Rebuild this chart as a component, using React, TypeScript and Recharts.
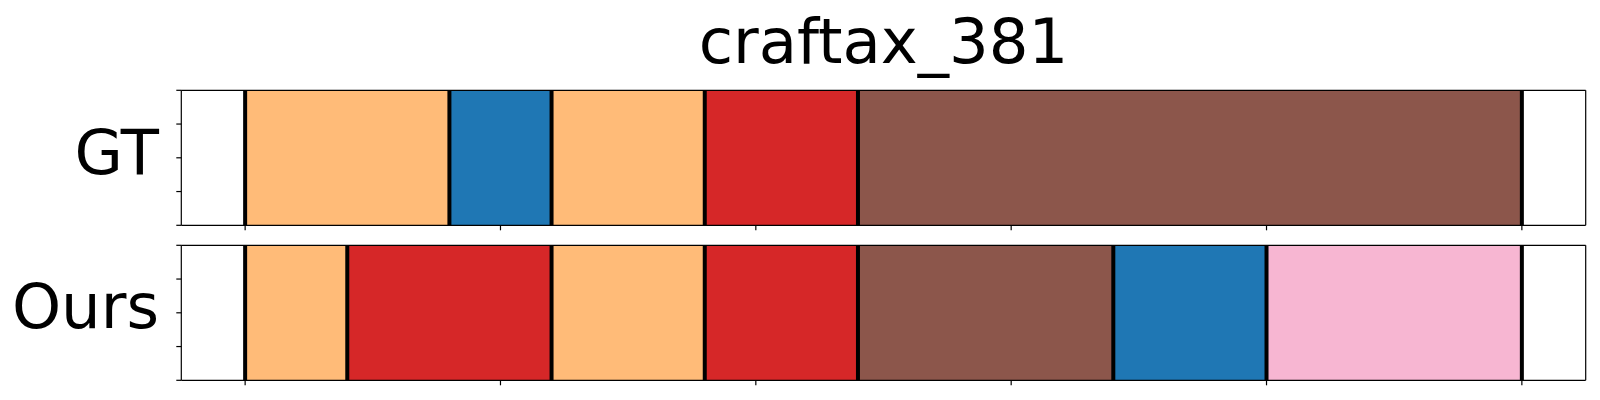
import {
  ComposedChart,
  Bar,
  XAxis,
  YAxis,
  ReferenceLine,
} from "recharts";

// segment boundaries (x in 0..100) and the class colour of each segment
const GT_BOUNDS = [0, 16, 24, 36, 48, 100];
const GT_CLASSES = ["orange", "blue", "orange", "red", "brown"];

const OURS_BOUNDS = [0, 8, 24, 36, 48, 68, 80, 100];
const OURS_CLASSES = ["orange", "red", "orange", "red", "brown", "blue", "pink"];

const X_TICKS = [0, 20, 40, 60, 80, 100];
const Y_TICKS = [0, 0.25, 0.5, 0.75, 1];

const COLORS: Record<string, string> = {
  orange: "#ffbb78",
  blue: "#1f77b4",
  red: "#d62728",
  brown: "#8c564b",
  pink: "#f7b6d2",
};

const FONT = "'DejaVu Sans', sans-serif";
const AX = "#000";

function Strip({
  name,
  bounds,
  classes,
  top,
  height,
  marginTop,
  marginBottom,
}: {
  name: string;
  bounds: number[];
  classes: string[];
  top: number;
  height: number;
  marginTop: number;
  marginBottom: number;
}) {
  const row: Record<string, any> = { name };
  classes.forEach((_, i) => {
    row["s" + i] = bounds[i + 1] - bounds[i];
  });

  // axes take 1px each (a 0px axis is not drawn), so margins are trimmed by 1
  return (
    <div style={{ position: "absolute", left: 0, top }}>
      <ComposedChart
        width={1600}
        height={height}
        layout="vertical"
        data={[row]}
        barCategoryGap={0}
        barGap={0}
        margin={{ top: marginTop - 1, right: 13.3, bottom: marginBottom - 1, left: 180.3 }}
      >
        <XAxis
          type="number"
          domain={[-5, 105]}
          ticks={X_TICKS}
          tickFormatter={() => ""}
          tickSize={5}
          height={1}
          stroke={AX}
          strokeWidth={1.2}
          allowDataOverflow
        />
        <XAxis
          xAxisId="top"
          orientation="top"
          type="number"
          domain={[-5, 105]}
          tick={false}
          tickLine={false}
          height={1}
          stroke={AX}
          strokeWidth={1.2}
          allowDataOverflow
        />
        <YAxis type="category" dataKey="name" hide width={0} />
        {/* plain 0..1 axis only for the left ticks of the frame */}
        <YAxis
          yAxisId="frac"
          type="number"
          dataKey="frac"
          scale="linear"
          domain={[0, 1]}
          ticks={Y_TICKS}
          tickFormatter={() => ""}
          tickSize={5}
          width={1}
          stroke={AX}
          strokeWidth={1.2}
          allowDataOverflow
        />
        <YAxis
          yAxisId="right"
          orientation="right"
          type="number"
          dataKey="frac"
          scale="linear"
          domain={[0, 1]}
          tick={false}
          tickLine={false}
          width={1}
          stroke={AX}
          strokeWidth={1.2}
          allowDataOverflow
        />
        {classes.map((c, i) => (
          <Bar
            key={i}
            dataKey={"s" + i}
            stackId="seg"
            fill={COLORS[c]}
            isAnimationActive={false}
          />
        ))}
        {bounds.map((b) => (
          <ReferenceLine key={b} x={b} stroke="#000" strokeWidth={4} zIndex={1000} />
        ))}
      </ComposedChart>
    </div>
  );
}

export default function App() {
  return (
    <div
      style={{
        position: "absolute",
        left: 0,
        top: 0,
        width: 1600,
        height: 400,
        background: "#fff",
        overflow: "hidden",
      }}
    >
      <Strip
        name="GT"
        bounds={GT_BOUNDS}
        classes={GT_CLASSES}
        top={0}
        height={240}
        marginTop={90.3}
        marginBottom={14.7}
      />
      <Strip
        name="Ours"
        bounds={OURS_BOUNDS}
        classes={OURS_CLASSES}
        top={240}
        height={160}
        marginTop={5.3}
        marginBottom={19.7}
      />
      <svg
        width={1600}
        height={400}
        style={{ position: "absolute", left: 0, top: 0, pointerEvents: "none" }}
      >
        <text x={883.5} y={63.3} textAnchor="middle" fontFamily={FONT} fontSize={62.5} fill="#000">
          craftax_381
        </text>
        <text x={159} y={174} textAnchor="end" fontFamily={FONT} fontSize={62.5} fill="#000">
          GT
        </text>
        <text x={159} y={327.5} textAnchor="end" fontFamily={FONT} fontSize={62.5} fill="#000">
          Ours
        </text>
      </svg>
    </div>
  );
}
